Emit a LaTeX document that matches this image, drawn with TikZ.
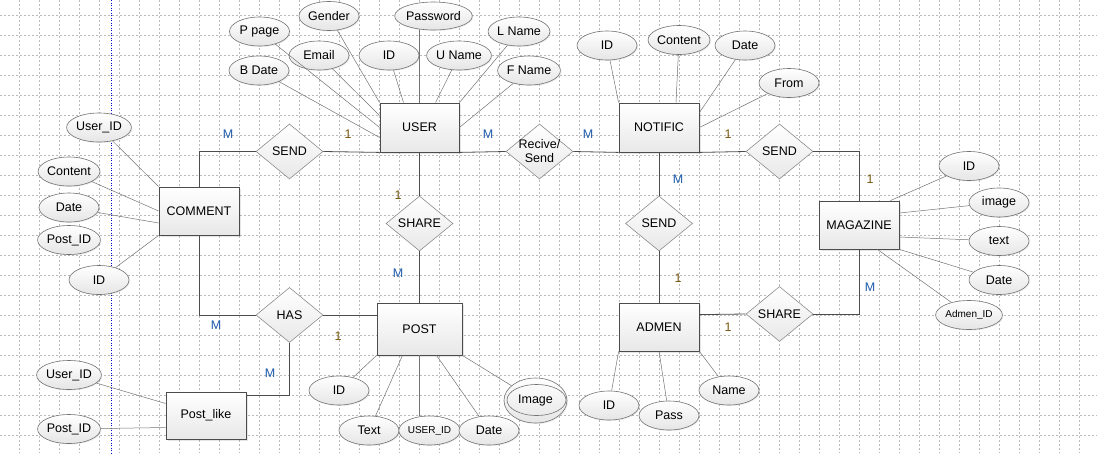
\documentclass[tikz,border=0pt]{standalone}
\usepackage{fontspec}
\setmainfont{Liberation Sans}
\usetikzlibrary{shapes.geometric,shadows}
\definecolor{manyblue}{RGB}{30,90,170}
\definecolor{onebrown}{RGB}{120,85,15}
\definecolor{gridgray}{RGB}{185,185,185}

\begin{document}
\begin{tikzpicture}[x=1pt,y=-1pt,every node/.style={font=\fontsize{12.5}{14}\selectfont},
	entity/.style={rectangle,draw=black!70,line width=0.8pt,minimum width=80pt,minimum height=48pt,inner sep=0pt,top color=white,bottom color=black!9,drop shadow={opacity=0.2,shadow xshift=1.5pt,shadow yshift=-1.5pt}},
	attrib/.style={ellipse,draw=black!55,line width=0.6pt,minimum width=60pt,minimum height=29pt,inner sep=0pt,top color=white,bottom color=black!10,drop shadow={opacity=0.15,shadow xshift=1pt,shadow yshift=-1pt}},
	relation/.style={diamond,draw=black!45,line width=0.6pt,shape aspect=1.22,minimum width=67pt,minimum height=55pt,inner sep=0pt,top color=white,bottom color=black!9},
	link/.style={draw=black!70,line width=0.8pt},
	attlink/.style={draw=black!55,line width=0.5pt},
	many/.style={text=manyblue},
	one/.style={text=onebrown},
	small/.style={font=\fontsize{10}{12}\selectfont},
	gridline/.style={draw=gridgray,line width=0.4pt,dash pattern=on 2pt off 2pt}]
	\useasboundingbox (0,0) rectangle (1097,453);
	% editor grid
	\foreach \gx in {19,39,...,1097} \draw[gridline] (\gx,0) -- (\gx,453);
	\foreach \gy in {15,35,...,453} \draw[gridline] (0,\gy) -- (1097,\gy);
	\draw[blue!80!black,line width=0.6pt,dash pattern=on 1pt off 1.5pt] (111,0) -- (111,453);

	% entities
	\node[entity,minimum width=79pt,minimum height=49pt] (user) at (419.5,127.5) {USER};
	\node[entity,minimum height=49pt] (notific) at (659,127.5) {NOTIFIC};
	\node[entity] (comment) at (199,211) {COMMENT};
	\node[entity] (magazine) at (859,225) {MAGAZINE};
	\node[entity,minimum width=85pt,minimum height=52pt] (post) at (419.5,329) {POST};
	\node[entity] (admen) at (659,327) {ADMEN};
	\node[entity,minimum height=47pt] (postlike) at (206,415.5) {Post\_like};

	% relations
	\node[relation] (send1) at (289.5,151.5) {SEND};
	\node[relation,inner sep=-6pt,align=center] (recv) at (539.5,151.5) {Recive/\\Send};
	\node[relation] (send2) at (779.5,151.5) {SEND};
	\node[relation] (share1) at (419.5,223.5) {SHARE};
	\node[relation] (send3) at (659,223.5) {SEND};
	\node[relation] (has) at (289.5,315) {HAS};
	\node[relation] (share2) at (779.5,314) {SHARE};

	% user attributes
	\node[attrib] (ppage) at (259.5,31.5) {P page};
	\node[attrib] (gender) at (329,16) {Gender};
	\node[attrib,minimum width=69pt,minimum height=28pt] (password) at (433.5,16) {Password};
	\node[attrib] (email) at (319,55.5) {Email};
	\node[attrib] (uid) at (389,55.5) {ID};
	\node[attrib] (uname) at (459,55.5) {U Name};
	\node[attrib] (lname) at (519,31.5) {L Name};
	\node[attrib] (fname) at (529,70.5) {F Name};
	\node[attrib] (bdate) at (259,70.5) {B Date};

	% notific attributes
	\node[attrib] (nid) at (607,45.5) {ID};
	\node[attrib] (ncontent) at (679,40) {Content};
	\node[attrib] (ndate) at (745,45.5) {Date};
	\node[attrib] (nfrom) at (789,83) {From};

	% comment attributes
	\node[attrib] (cuser) at (99,127.5) {User\_ID};
	\node[attrib] (ccontent) at (69,171.5) {Content};
	\node[attrib] (cdate) at (69,207.5) {Date};
	\node[attrib] (cpost) at (69,240) {Post\_ID};
	\node[attrib] (cid) at (99,280) {ID};

	% post attributes
	\node[attrib] (pid) at (339,390.5) {ID};
	\node[attrib] (ptext) at (369,430.5) {Text};
	\node[attrib,small] (puser) at (429.5,430.5) {USER\_ID};
	\node[attrib] (pdate) at (489,430.5) {Date};
	\node[attrib,minimum width=63pt,minimum height=45pt] (pimage) at (535.5,400.5) {Image};
	\node[ellipse,draw=black!55,line width=0.6pt,minimum width=59pt,minimum height=31pt] (pimagein) at (536.5,400) {};

	% admen attributes
	\node[attrib] (aid) at (609,405.5) {ID};
	\node[attrib] (apass) at (669,415.5) {Pass};
	\node[attrib] (aname) at (729,390.5) {Name};

	% magazine attributes
	\node[attrib] (mid) at (969,166) {ID};
	\node[attrib] (mimage) at (999,202.5) {image};
	\node[attrib] (mtext) at (999,241) {text};
	\node[attrib] (mdate) at (999,280) {Date};
	\node[attrib,small] (madmen) at (969,315) {Admen\_ID};

	% post_like attributes
	\node[attrib] (luser) at (69,375) {User\_ID};
	\node[attrib] (lpost) at (69,429) {Post\_ID};

	% attribute lines
	\draw[attlink] (ppage) -- (user.west);
	\draw[attlink] (bdate) -- ([yshift=-10pt]user.west);
	\draw[attlink] (email) -- ([yshift=12pt]user.west);
	\draw[attlink] (gender) -- (user.north west);
	\draw[attlink] (uid) -- ([xshift=-16pt]user.north);
	\draw[attlink] (user.north |- password.south) -- (user.north);
	\draw[attlink] (uname) -- ([xshift=16pt]user.north);
	\draw[attlink] (lname) -- (user.north east);
	\draw[attlink] (fname) -- (user.east);
	\draw[attlink] (nid) -- (notific.north west);
	\draw[attlink] (ncontent) -- ([xshift=17pt]notific.north);
	\draw[attlink] (ndate) -- ([yshift=-10pt]notific.north east);
	\draw[attlink] (nfrom) -- (notific.east);
	\draw[attlink] (cuser) -- (comment.north west);
	\draw[attlink] (ccontent) -- (comment.west);
	\draw[attlink] (cdate) -- ([yshift=-12pt]comment.west);
	\draw[attlink] (cid) -- (comment.south west);
	\draw[attlink] (pid) -- (post.south west);
	\draw[attlink] (ptext) -- ([xshift=-17pt]post.south);
	\draw[attlink] (post.south) -- (post.south |- puser.north);
	\draw[attlink] (pdate) -- ([xshift=17pt]post.south);
	\draw[attlink] (pimage) -- (post.south east);
	\draw[attlink] (aid) -- (admen.south west);
	\draw[attlink] (apass) -- (admen.south);
	\draw[attlink] (aname) -- (admen.south east);
	\draw[attlink] (mid) -- ([xshift=-9pt]magazine.north east);
	\draw[attlink] (mimage) -- ([yshift=12pt]magazine.east);
	\draw[attlink] (mtext) -- ([yshift=-12pt]magazine.east);
	\draw[attlink] (mdate) -- (magazine.south east);
	\draw[attlink] (madmen) -- ([xshift=-22pt]magazine.south east);
	\draw[attlink] (luser) -- ([yshift=12pt]postlike.west);
	\draw[attlink] (lpost) -- ([yshift=-12pt]postlike.west);

	% relation lines
	\draw[link] (comment.north) |- (send1.west);
	\draw[link] (send1.east) -- (user.south west);
	\draw[link] (user.south east) -- (recv.west);
	\draw[link] (recv.east) -- (notific.south west);
	\draw[link] (notific.south east) -- (send2.west);
	\draw[link] (send2.east) -| (magazine.north);
	\draw[link] (user.south) -- (share1.north);
	\draw[link] (share1.south) -- (post.north);
	\draw[link] (notific.south) -- (send3.north);
	\draw[link] (send3.south) -- (admen.north);
	\draw[link] ([yshift=-12pt]admen.north east) -- (share2.west);
	\draw[link] (share2.east) -| (magazine.south);
	\draw[link] (comment.south) |- (has.west);
	\draw[link] (has.east) -- (has.east -| post.west);
	\draw[link] (has.south) |- ([yshift=20pt]postlike.east);

	% cardinalities
	\node[many] (kcs) at (228,134) {M};
	\node[one] (kus) at (348,134) {1};
	\node[many] (kur) at (488,134) {M};
	\node[many] (knr) at (588,134) {M};
	\node[one] (kns) at (728,134) {1};
	\node[one] (kms) at (870,179) {1};
	\node[one] (kush) at (398,195) {1};
	\node[many] (kpsh) at (398,273) {M};
	\node[many] (kns3) at (678,179) {M};
	\node[one] (kas3) at (678,278) {1};
	\node[one] (kash) at (728,327) {1};
	\node[many] (kmsh) at (870,287) {M};
	\node[many] (kch) at (216,325) {M};
	\node[one] (kph) at (338,336) {1};
	\node[many] (klh) at (270,373) {M};
\end{tikzpicture}
\end{document}
